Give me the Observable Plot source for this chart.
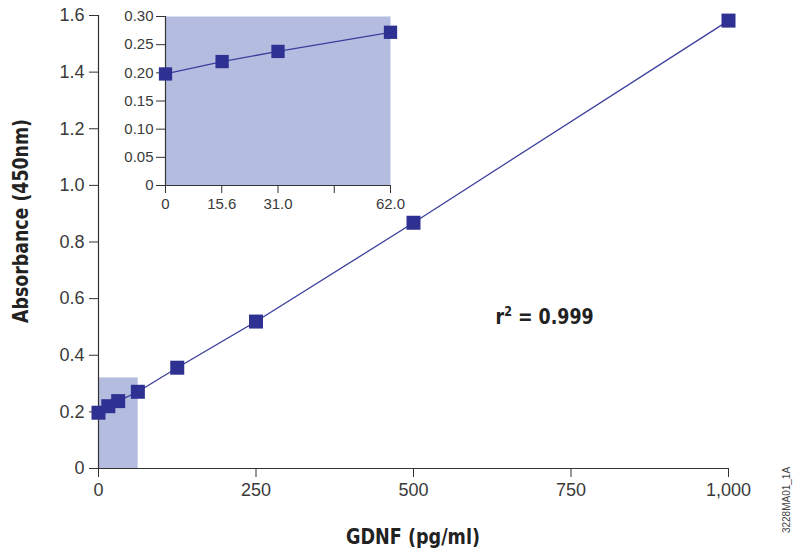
<!DOCTYPE html>
<html><head><meta charset="utf-8">
<script src="https://cdn.jsdelivr.net/npm/d3@7"></script>
<script src="https://cdn.jsdelivr.net/npm/@observablehq/plot@0.6"></script>
<style>
body{margin:0;background:#fff}
#wrap{position:relative;width:798px;height:554px;overflow:hidden}
#inset{position:absolute;left:120px;top:6px}
#code{position:absolute;left:786px;top:500px;transform:translate(-50%,-50%) rotate(-90deg);font:10px 'Liberation Sans',Arial,sans-serif;color:#444;white-space:nowrap}
</style>
</head><body><div id="wrap"><div id="code">3228MA01_1A</div></div>
<script>
// Main standard curve
const concentrations = [0, 15.6, 31.25, 62.5, 125, 250, 500, 1000];
const absorbance = [0.197, 0.220, 0.238, 0.271, 0.356, 0.519, 0.868, 1.582];
const xTicks = [0, 250, 500, 750, 1000];
const yTicks = [0, 0.2, 0.4, 0.6, 0.8, 1.0, 1.2, 1.4, 1.6];
const zoomX = [0, 63];
const zoomY = [0, 0.32];
const rSquaredValue = "0.999";
const xLabel = "GDNF (pg/ml)";
const yLabel = "Absorbance (450nm)";

// Inset (low range)
const insetConc = [0, 15.6, 31.0, 62.0];
const insetAbs = [0.198, 0.220, 0.238, 0.272];
const insetXTicks = [0, 15.5, 31.0, 46.5, 62.0];
const insetXLabels = ["0", "15.6", "31.0", "", "62.0"];
const insetYTicks = [0, 0.05, 0.10, 0.15, 0.20, 0.25, 0.30];

const BLUE = "#2e3192", LINE = "#3b3e9c", SHADE = "#b4bddf", AXIS = "#333";
const data = concentrations.map((c, i) => ({c, a: absorbance[i]}));
const insetData = insetConc.map((c, i) => ({c, a: insetAbs[i]}));

const main = Plot.plot({
  width: 798, height: 554,
  marginLeft: 98, marginRight: 70, marginTop: 15, marginBottom: 86,
  style: {fontFamily: "'Liberation Sans', Arial, sans-serif", fontSize: "18px", color: "#3a3a3a", background: "white"},
  x: {domain: [0, 1000]},
  y: {domain: [0, 1.6]},
  marks: [
    Plot.rect([{x1: zoomX[0], x2: zoomX[1], y1: zoomY[0], y2: zoomY[1]}], {x1: "x1", x2: "x2", y1: "y1", y2: "y2", fill: SHADE}),
    Plot.axisY({ticks: yTicks, tickFormat: d => d === 0 ? "0" : d.toFixed(1), tickSize: 9, tickPadding: 5, label: null, stroke: AXIS}),
    Plot.axisX({ticks: xTicks, tickFormat: d3.format(","), tickSize: 9, tickPadding: 6, label: null, stroke: AXIS}),
    Plot.ruleX([0], {stroke: AXIS, strokeWidth: 1.2}),
    Plot.ruleY([0], {stroke: AXIS, strokeWidth: 1.2}),
    Plot.line(data, {x: "c", y: "a", stroke: LINE, strokeWidth: 1.3}),
    Plot.dot(data, {x: "c", y: "a", symbol: "square", r: 7.9, fill: BLUE, stroke: "none"})
  ]
});
const svg = d3.select(main);
const condensed = "'DejaVu Sans Condensed', 'Liberation Sans Narrow', Arial, sans-serif";
svg.append("text").attr("transform", "translate(28,221) rotate(-90)")
  .attr("text-anchor", "middle").attr("font-family", condensed).attr("font-weight", "bold")
  .attr("font-size", 22).attr("fill", "#222")
  .attr("textLength", 204).attr("lengthAdjust", "spacingAndGlyphs").text(yLabel);
svg.append("text").attr("x", 413).attr("y", 544)
  .attr("text-anchor", "middle").attr("font-family", condensed).attr("font-weight", "bold")
  .attr("font-size", 22).attr("fill", "#222")
  .attr("textLength", 134).attr("lengthAdjust", "spacingAndGlyphs").text(xLabel);
const sx = main.scale("x"), sy = main.scale("y");
const rt = svg.append("text")
  .attr("transform", `translate(${sx.apply(631)},${sy.apply(0.507)}) scale(0.88,1)`)
  .attr("text-anchor", "start")
  .attr("font-family", condensed).attr("font-weight", "bold").attr("font-size", 22).attr("fill", "#222");
rt.append("tspan").text("r");
rt.append("tspan").attr("font-size", 14).attr("dy", -8).text("2");
rt.append("tspan").attr("dy", 8).text(" = " + rSquaredValue);
document.getElementById("wrap").prepend(main);

const inset = Plot.plot({
  width: 285, height: 209,
  marginLeft: 45, marginRight: 15, marginTop: 10, marginBottom: 30,
  style: {fontFamily: "'Liberation Sans', Arial, sans-serif", fontSize: "15px", color: "#3a3a3a", background: "transparent"},
  x: {domain: [0, 62.0]},
  y: {domain: [0, 0.30]},
  marks: [
    Plot.frame({fill: SHADE, stroke: "none"}),
    Plot.axisY({ticks: insetYTicks, tickFormat: d => d === 0 ? "0" : d.toFixed(2), tickSize: 9, tickPadding: 3, label: null, stroke: AXIS}),
    Plot.axisX({ticks: insetXTicks, tickFormat: (d, i) => insetXLabels[i], tickSize: 8, tickPadding: 5, label: null, stroke: AXIS}),
    Plot.ruleX([0], {stroke: AXIS, strokeWidth: 1.2}),
    Plot.ruleY([0], {stroke: AXIS, strokeWidth: 1.2}),
    Plot.line(insetData, {x: "c", y: "a", stroke: LINE, strokeWidth: 1.3}),
    Plot.dot(insetData, {x: "c", y: "a", symbol: "square", r: 7.5, fill: BLUE, stroke: "none"})
  ]
});
inset.id = "inset";
document.getElementById("wrap").appendChild(inset);
</script>
</body></html>
